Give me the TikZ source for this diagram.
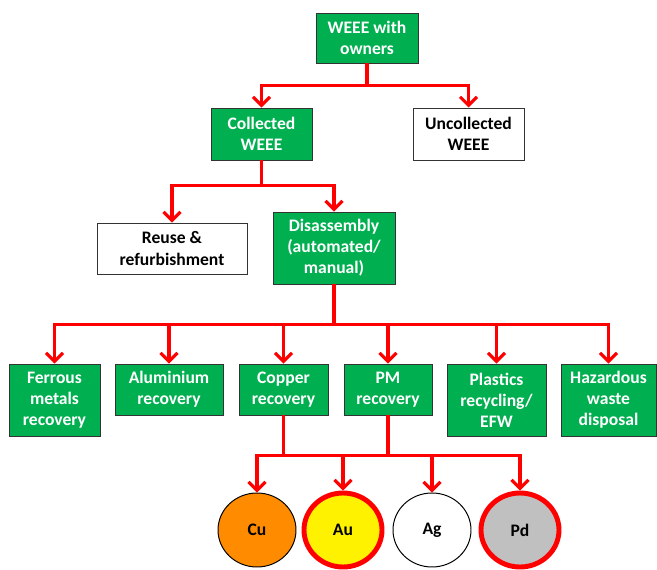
\documentclass[tikz,border=0pt]{standalone}
\usepackage{fontspec}
\setmainfont{Carlito}
\usetikzlibrary{arrows.meta,shapes.geometric}

\definecolor{boxgreen}{HTML}{00B050}
\definecolor{linkred}{HTML}{FF0000}
\definecolor{cuorange}{HTML}{FF8C00}
\definecolor{pdgray}{HTML}{C0C0C0}

\tikzset{
    box/.style={draw=black!80, line width=0.7pt, rectangle, align=center,
        font=\fontsize{12.5}{15}\selectfont\bfseries, inner sep=0pt},
    greenbox/.style={box, fill=boxgreen, text=white},
    whitebox/.style={box, fill=white, text=black},
    metal/.style={ellipse, draw=black, line width=0.7pt, minimum width=78*0.025cm,
        minimum height=74*0.025cm, inner sep=0pt, font=\fontsize{12.5}{15}\selectfont\bfseries},
    pm/.style={metal, draw=linkred, line width=3.5pt},
    link/.style={draw=linkred, line width=2.2pt, -{Straight Barb[length=6pt,width=12pt]}},
    bus/.style={draw=linkred, line width=2.2pt}
}

\begin{document}
\begin{tikzpicture}[x=0.025cm, y=-0.025cm]
        % ==== FRAME ====
        \useasboundingbox (0,0) rectangle (657,570);

        % ==== LEVEL 1 and 2 ====
        \node[greenbox, minimum width=102*0.025cm, minimum height=50*0.025cm] (owners) at (367,38) {WEEE with\\owners};
        \node[greenbox, minimum width=101*0.025cm, minimum height=52*0.025cm] (collected) at (261.5,134) {Collected\\WEEE};
        \node[whitebox, minimum width=111*0.025cm, minimum height=52*0.025cm] (uncollected) at (468.5,134) {Uncollected\\WEEE};

        % ==== LEVEL 3 ====
        \node[whitebox, minimum width=150*0.025cm, minimum height=51*0.025cm] (reuse) at (172,248.5) {Reuse \&\\refurbishment};
        \node[greenbox, minimum width=122*0.025cm, minimum height=72*0.025cm] (dis) at (334,248) {Disassembly\\(automated/\\manual)};

        % ==== RECOVERY ROUTES ====
        \node[greenbox, minimum width=91*0.025cm, minimum height=72*0.025cm] (ferrous) at (54.5,400) {Ferrous\\metals\\recovery};
        \node[greenbox, minimum width=108*0.025cm, minimum height=51*0.025cm] (alu) at (169,389.5) {Aluminium\\recovery};
        \node[greenbox, minimum width=89*0.025cm, minimum height=51*0.025cm] (copper) at (283.5,389.5) {Copper\\recovery};
        \node[greenbox, minimum width=88*0.025cm, minimum height=51*0.025cm] (pmrec) at (388,389.5) {PM\\recovery};
        \node[greenbox, minimum width=99*0.025cm, minimum height=72*0.025cm] (plastics) at (496.5,400) {Plastics\\recycling/\\EFW};
        \node[greenbox, minimum width=95*0.025cm, minimum height=72*0.025cm] (hazard) at (608.5,400) {Hazardous\\waste\\disposal};

        % ==== METALS ====
        \node[metal, fill=cuorange] (cu) at (257,530) {Cu};
        \node[pm, fill=yellow] (au) at (343,530) {Au};
        \node[metal, fill=white] (ag) at (432,530) {Ag};
        \node[pm, fill=pdgray] (pd) at (520,530) {Pd};

        % ==== CONNECTORS ====
        \draw[link] (owners.south) -- ++(0,22) -| (collected.north);
        \draw[link] (owners.south) -- ++(0,22) -| (uncollected.north);
        \draw[link] (collected.south) -- ++(0,25) -| (reuse.north);
        \draw[link] (collected.south) -- ++(0,25) -| (dis.north);
        \foreach \route in {ferrous, alu, copper, pmrec, plastics, hazard}
            \draw[link] (dis.south) -- ++(0,40) -| (\route.north);
        \draw[bus] (copper.south) ++(0,40) coordinate (mbus) -- (mbus -| pmrec.south);
        \draw[link] (copper.south) -- ++(0,40) -| (cu.north);
        \draw[link] (copper.south) -- ++(0,40) -| (au.north);
        \draw[link] (pmrec.south) -- ++(0,40) -| (ag.north);
        \draw[link] (pmrec.south) -- ++(0,40) -| (pd.north);

    \end{tikzpicture}
\end{document}
